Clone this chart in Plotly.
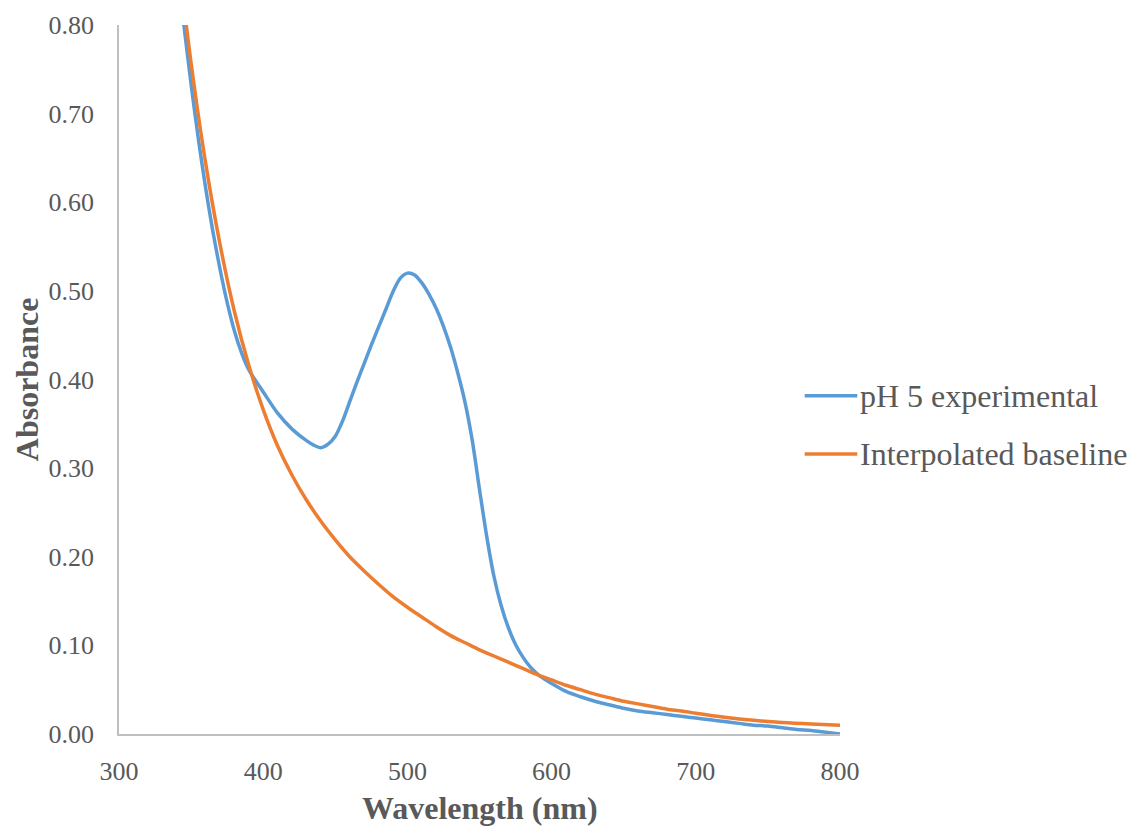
import plotly.graph_objects as go

# Absorbance spectrum at pH 5 and the interpolated scattering baseline
wl_exp = [340, 345, 350, 355, 360, 365, 370, 375, 380, 385, 390, 400, 410, 420, 430,
          435, 440, 445, 450, 455, 460, 465, 470, 475, 480, 485, 490, 495, 500, 505,
          510, 515, 520, 525, 530, 535, 540, 545, 550, 555, 560, 565, 570, 575, 580,
          585, 590, 595, 600, 610, 620, 630, 640, 650, 660, 670, 680, 690, 700, 710,
          720, 730, 740, 750, 760, 770, 780, 790, 800]
abs_exp = [0.875, 0.800, 0.733, 0.672, 0.617, 0.568, 0.525, 0.487, 0.455, 0.430, 0.411,
           0.386, 0.362, 0.344, 0.331, 0.326, 0.323, 0.327, 0.336, 0.353, 0.375, 0.397,
           0.418, 0.439, 0.459, 0.479, 0.499, 0.514, 0.520, 0.518, 0.509, 0.496, 0.480,
           0.460, 0.436, 0.407, 0.374, 0.331, 0.276, 0.223, 0.178, 0.145, 0.120, 0.101,
           0.087, 0.076, 0.068, 0.062, 0.057, 0.048, 0.042, 0.037, 0.033, 0.029, 0.026,
           0.024, 0.022, 0.020, 0.018, 0.016, 0.014, 0.012, 0.010, 0.009, 0.007, 0.005,
           0.004, 0.002, 0.000]

wl_base = [340, 350, 360, 370, 380, 390, 400, 410, 420, 430, 440, 450, 460, 470, 480,
           490, 500, 510, 520, 530, 540, 550, 560, 570, 580, 590, 600, 610, 620, 630,
           640, 650, 660, 670, 680, 690, 700, 720, 740, 760, 780, 800]
abs_base = [0.890, 0.757, 0.645, 0.553, 0.477, 0.416, 0.366, 0.325, 0.292, 0.264, 0.240,
            0.219, 0.200, 0.184, 0.169, 0.155, 0.143, 0.132, 0.121, 0.111, 0.103, 0.095,
            0.088, 0.081, 0.074, 0.067, 0.061, 0.055, 0.050, 0.045, 0.041, 0.037, 0.034,
            0.031, 0.028, 0.026, 0.0235, 0.0190, 0.0155, 0.0130, 0.0113, 0.0100]

x_ticks = [300, 400, 500, 600, 700, 800]
y_ticks = [0.0, 0.1, 0.2, 0.3, 0.4, 0.5, 0.6, 0.7, 0.8]

series_names = ["pH 5 experimental", "Interpolated baseline"]
series_colors = ["#5B9BD5", "#ED7D31"]

FONT = "Liberation Serif"
GREY = "#595959"

fig = go.Figure()
fig.add_trace(go.Scatter(x=wl_exp, y=abs_exp, mode="lines", name=series_names[0],
                         line=dict(color=series_colors[0], width=3.5, shape="spline", smoothing=0.8)))
fig.add_trace(go.Scatter(x=wl_base, y=abs_base, mode="lines", name=series_names[1],
                         line=dict(color=series_colors[1], width=3.5, shape="spline", smoothing=0.8)))

fig.update_layout(
    width=1131, height=826,
    margin=dict(l=119, r=291, t=25, b=92),
    paper_bgcolor="white", plot_bgcolor="white",
    showlegend=False,
    font=dict(family=FONT, color=GREY, size=26),
    xaxis=dict(range=[300, 800], tickvals=x_ticks, ticktext=[str(v) for v in x_ticks],
               showgrid=False, zeroline=False, showline=True, linecolor="#BFBFBF",
               linewidth=1.5, ticks="", ticklabelstandoff=13,
               tickfont=dict(family=FONT, size=26, color=GREY)),
    yaxis=dict(range=[0, 0.8], tickvals=y_ticks, ticktext=[f"{v:.2f}" for v in y_ticks],
               showgrid=False, zeroline=False, showline=True, linecolor="#BFBFBF",
               linewidth=1.5, ticks="", ticklabelstandoff=18,
               tickfont=dict(family=FONT, size=26, color=GREY)),
)

# Axis titles
fig.add_annotation(text="<b>Wavelength (nm)</b>", xref="paper", yref="paper",
                   x=0.5, y=-0.104, xanchor="center", yanchor="middle", showarrow=False,
                   font=dict(family=FONT, size=32, color=GREY))
fig.add_annotation(text="<b>Absorbance</b>", xref="paper", yref="paper",
                   x=-0.128, y=0.5, xanchor="center", yanchor="middle", textangle=-90,
                   showarrow=False, font=dict(family=FONT, size=32, color=GREY))

# Legend drawn to the right of the plot area
legend_y = [0.477, 0.395]
for name, color, ly in zip(series_names, series_colors, legend_y):
    fig.add_shape(type="line", xref="paper", yref="paper", x0=0.951, x1=1.024, y0=ly, y1=ly,
                  line=dict(color=color, width=3.5))
    fig.add_annotation(text=name, xref="paper", yref="paper", x=1.0245, y=ly,
                       xanchor="left", yanchor="middle", showarrow=False,
                       font=dict(family=FONT, size=32, color=GREY))

fig.write_html("out.html")
